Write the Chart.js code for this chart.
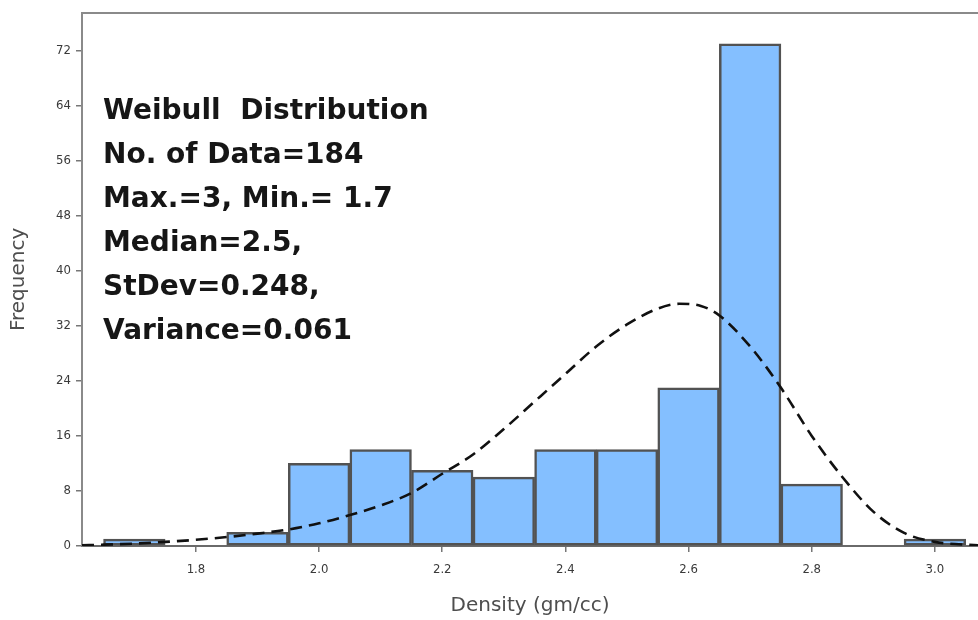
<!DOCTYPE html>
<html>
<head>
<meta charset="utf-8">
<script src="https://cdn.jsdelivr.net/npm/chart.js@4.4.1/dist/chart.umd.min.js"></script>
<style>
  html, body { margin: 0; padding: 0; background: #ffffff; }
  #wrap { width: 978px; height: 620px; position: relative; }
</style>
</head>
<body>
<div id="wrap"><canvas id="chart" width="978" height="620"></canvas></div>
<script>
// Histogram bins (centre of each 0.1 gm/cc class) and their counts
const binCenters = [1.7, 1.8, 1.9, 2.0, 2.1, 2.2, 2.3, 2.4, 2.5, 2.6, 2.7, 2.8, 2.9, 3.0];
const binCounts  = [1,   0,   2,   12,  14,  11,  10,  14,  14,  23,  73,  9,   0,   1];

// Fitted Weibull frequency curve, sampled along the density axis
const fitX = [1.615, 1.65, 1.7, 1.75, 1.8, 1.85, 1.9, 1.95, 2.0, 2.05, 2.1, 2.15, 2.2, 2.25, 2.3,
              2.35, 2.4, 2.45, 2.5, 2.55, 2.585, 2.62, 2.65, 2.7, 2.75, 2.8, 2.85, 2.9, 2.95, 3.0, 3.07];
const fitY = [0.1, 0.2, 0.35, 0.6, 0.9, 1.3, 1.8, 2.4, 3.3, 4.5, 5.9, 7.7, 10.5, 13.3, 17.0,
              21.0, 25.0, 29.0, 32.2, 34.5, 35.2, 34.9, 33.5, 29.0, 23.0, 16.0, 10.0, 5.0, 1.9, 0.6, 0.1];

// Axis ticks
const xTickValues = [1.8, 2.0, 2.2, 2.4, 2.6, 2.8, 3.0];
const yTickValues = [0, 8, 16, 24, 32, 40, 48, 56, 64, 72];

// Summary statistics block
const statsLines = [
  'Weibull  Distribution',
  'No. of Data=184',
  'Max.=3, Min.= 1.7',
  'Median=2.5,',
  'StDev=0.248,',
  'Variance=0.061'
];

const X_MIN = 1.615, X_MAX = 3.07, Y_MAX = 77.5;

const statsText = {
  id: 'statsText',
  afterDatasetsDraw(chart) {
    const { ctx, chartArea } = chart;
    ctx.save();
    ctx.font = 'bold 28px "DejaVu Sans"';
    ctx.fillStyle = '#161616';
    ctx.textAlign = 'left';
    ctx.textBaseline = 'alphabetic';
    statsLines.forEach((line, i) => {
      ctx.fillText(line, chartArea.left + 21, chartArea.top + 106 + i * 44);
    });
    ctx.restore();
  }
};

const tickFont = { family: '"DejaVu Sans Condensed", "DejaVu Sans"', size: 13 };
const titleFont = { family: '"DejaVu Sans"', size: 20 };

new Chart(document.getElementById('chart'), {
  type: 'bar',
  data: {
    datasets: [
      {
        type: 'line',
        label: 'Weibull fit',
        data: fitX.map((x, i) => ({ x, y: fitY[i] })),
        borderColor: '#111111',
        borderWidth: 2.6,
        borderDash: [12, 7],
        pointRadius: 0,
        cubicInterpolationMode: 'monotone',
        fill: false,
        order: 0
      },
      {
        type: 'bar',
        label: 'Frequency',
        data: binCenters.map((x, i) => ({ x, y: binCounts[i] })),
        backgroundColor: '#84BFFF',
        borderColor: '#525252',
        borderWidth: 2.5,
        borderSkipped: false,
        barPercentage: 1,
        categoryPercentage: 1,
        order: 1
      }
    ]
  },
  options: {
    responsive: false,
    devicePixelRatio: 1,
    animation: false,
    layout: { padding: 0 },
    plugins: {
      legend: { display: false },
      tooltip: { enabled: false },
      title: { display: false }
    },
    scales: {
      x: {
        type: 'linear',
        position: 'bottom',
        min: X_MIN,
        max: X_MAX,
        offset: false,
        grid: { offset: false, drawOnChartArea: false, drawTicks: true, tickLength: 6, color: '#777777', lineWidth: 1.5 },
        border: { display: true, color: '#6a6a6a', width: 2 },
        ticks: {
          font: tickFont,
          color: '#3a3a3a',
          padding: 10,
          maxRotation: 0,
          autoSkip: false,
          callback: v => Number(v).toFixed(1)
        },
        title: {
          display: true,
          text: 'Density (gm/cc)',
          font: titleFont,
          color: '#4e4e4e',
          padding: { top: 0, bottom: 2 }
        },
        afterBuildTicks: s => { s.ticks = xTickValues.map(v => ({ value: v })); },
        afterFit: s => { s.height = 74; }
      },
      xTop: {
        type: 'linear',
        position: 'top',
        min: X_MIN,
        max: X_MAX,
        offset: false,
        grid: { display: false, drawTicks: false },
        border: { display: true, color: '#8a8a8a', width: 2 },
        ticks: { display: false },
        afterFit: s => { s.height = 11; }
      },
      y: {
        type: 'linear',
        position: 'left',
        min: 0,
        max: Y_MAX,
        grid: { drawOnChartArea: false, drawTicks: true, tickLength: 6, color: '#777777', lineWidth: 1.5 },
        border: { display: true, color: '#8a8a8a', width: 2 },
        ticks: {
          font: tickFont,
          color: '#3a3a3a',
          padding: 5
        },
        title: {
          display: true,
          text: 'Frequency',
          font: titleFont,
          color: '#4e4e4e',
          padding: { top: 7, bottom: 0 }
        },
        afterBuildTicks: s => { s.ticks = yTickValues.map(v => ({ value: v })); },
        afterFit: s => { s.width = 82; }
      }
    }
  },
  plugins: [statsText]
});
</script>
</body>
</html>
